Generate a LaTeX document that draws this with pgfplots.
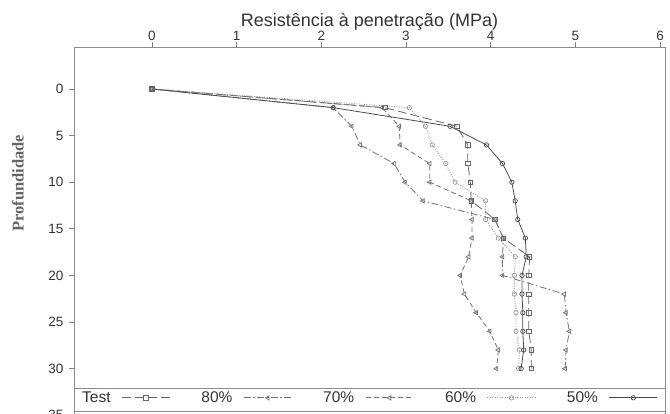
\documentclass[border=0pt]{standalone}
\usepackage{fontspec}
\setmainfont{Liberation Sans}
\newfontfamily\labelserif{Liberation Serif}
\usepackage{pgfplots}
\usepackage{pgfplotstable}
\pgfplotsset{compat=1.18}

\pgfplotstableread{
x y
0 0
2.75 2
3.60 4
3.73 6
3.73 8
3.76 10
3.77 12
4.05 14
4.15 16
4.46 18
4.45 20
4.45 22
4.45 24
4.45 26
4.48 28
4.48 30
}\testdata

\pgfplotstableread{
x y
0 0
2.14 2
2.36 4
2.46 6
2.86 8
2.99 10
3.20 12
4.05 14
4.15 16
4.14 18
4.14 20
4.87 22
4.89 24
4.93 26
4.89 28
4.88 30
}\oitenta

\pgfplotstableread{
x y
0 0
2.72 2
2.92 4
2.93 6
3.28 8
3.28 10
3.77 12
3.78 14
3.78 16
3.74 18
3.64 20
3.69 22
3.83 24
3.99 26
4.09 28
4.07 30
}\setenta

\pgfplotstableread{
x y
0 0
3.04 2
3.23 4
3.31 6
3.47 8
3.58 10
3.94 12
3.94 14
4.09 16
4.29 18
4.28 20
4.28 22
4.30 24
4.30 26
4.34 28
4.33 30
}\sessenta

\pgfplotstableread{
x y
0 0
2.14 2
3.52 4
3.95 6
4.14 8
4.25 10
4.29 12
4.32 14
4.41 16
4.42 18
4.37 20
4.37 22
4.38 24
4.38 26
4.39 28
4.36 30
}\cinquenta

\begin{document}
\begin{tikzpicture}
\begin{axis}[
  scale only axis, width=591pt, height=374pt,
  xmin=-0.921, xmax=6.059, ymin=-4.506, ymax=35.62, y dir=reverse,
  axis line style={draw=black!45, line width=0.9pt},
  xtick={0,1,2,3,4,5,6}, ytick={0,5,10,15,20,25,30,35},
  xtick pos=right, xticklabel pos=right, ytick pos=left,
  tick align=outside, major tick length=5pt,
  tick style={draw=black!50, line width=0.7pt},
  /pgf/number format/assume math mode=true,
  ticklabel style={font=\fontsize{13.5}{15}\selectfont, text=black!80},
  xticklabel style={inner sep=1pt},
  yticklabel style={xshift=-2pt},
  xlabel={Resistência à penetração (MPa)},
  xlabel style={font=\fontsize{18}{20}\selectfont, text=black!80,
    at={(axis description cs:0.5,1)}, anchor=base, yshift=21pt},
  ylabel={\labelserif\bfseries Profundidade},
  ylabel style={font=\fontsize{16.5}{18}\selectfont, text=black!60,
    at={(axis description cs:0,0.636)}, anchor=center, yshift=56pt},
  legend columns=5, legend plot pos=right,
  legend style={draw=none, fill=none, at={(axis description cs:0,0.062)},
    anchor=west, xshift=8pt, font=\fontsize{15.5}{18}\selectfont,
    text=black!80, inner xsep=0pt, inner ysep=0pt,
    nodes={inner sep=0pt},
    /tikz/every odd column/.append style={column sep=11pt},
    /tikz/every even column/.append style={column sep=31pt}},
  legend image code/.code={\draw[mark repeat=2,mark phase=2,#1]
    plot coordinates {(0pt,0pt) (24pt,0pt) (48pt,0pt)};},
  every axis plot/.append style={line width=0.8pt},
]
\addplot[black!60, dash pattern=on 9pt off 4pt, mark=square, mark size=2.2pt,
  mark options={solid, fill=white, line width=0.7pt}] table {\testdata};
\addlegendentry{Test}
\addplot[black!55, dash pattern=on 7pt off 2.5pt on 1.5pt off 2.5pt, mark=triangle,
  mark size=2.5pt, mark options={solid, rotate=90, fill=white, line width=0.7pt}] table {\oitenta};
\addlegendentry{80\%}
\addplot[black!55, dash pattern=on 5pt off 3pt, mark=triangle,
  mark size=2.5pt, mark options={solid, rotate=90, fill=white, line width=0.7pt}] table {\setenta};
\addlegendentry{70\%}
\addplot[black!40, dash pattern=on 1pt off 1.5pt, mark=o, mark size=2.2pt,
  mark options={solid, fill=white, line width=0.7pt}] table {\sessenta};
\addlegendentry{60\%}
\addplot[black!70, mark=o, mark size=2.2pt,
  mark options={solid, fill=white, line width=0.7pt}] table {\cinquenta};
\addlegendentry{50\%}
\draw[black!45, line width=0.9pt] (axis description cs:0,0.0882) -- (axis description cs:1,0.0882);
\draw[black!45, line width=0.9pt] (axis description cs:0,0.0267) -- (axis description cs:1,0.0267);
\coordinate (BL) at (axis description cs:0,0);
\coordinate (TR) at (axis description cs:1,1);
\end{axis}
\pgfresetboundingbox
\path[use as bounding box] ([xshift=-74pt,yshift=8pt]BL) rectangle ([xshift=5pt,yshift=47pt]TR);
\end{tikzpicture}
\end{document}
